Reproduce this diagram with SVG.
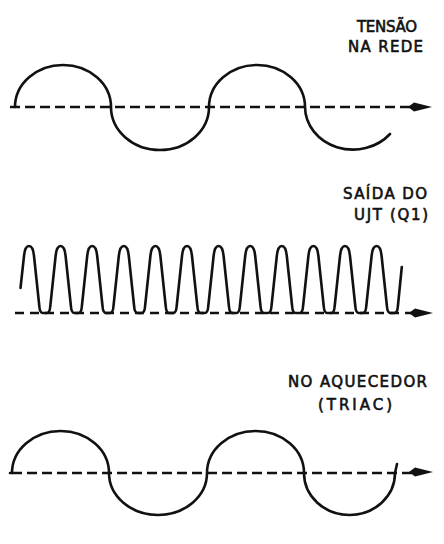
<svg xmlns="http://www.w3.org/2000/svg" xmlns:xlink="http://www.w3.org/1999/xlink" width="444" height="544" viewBox="0 0 444 544">
<style>
.bg{fill:#ffffff}
.wave{fill:none;stroke:#111;stroke-width:2.6;stroke-linecap:round;stroke-linejoin:round}
.axis{fill:none;stroke:#111;stroke-width:2.6;stroke-dasharray:10 5}
.axis2{fill:none;stroke:#111;stroke-width:2.6;stroke-dasharray:9 6}
.lbl{font-family:"DejaVu Sans","Liberation Sans",sans-serif;font-size:15px;fill:#111;stroke:#111;stroke-width:0.6;text-anchor:middle}
.ah{fill:#111}
</style>
<defs>
<path id="arrow" d="M0,0 L-18,-4.5 L-24,0 L-18,4.5 Z"/>
</defs>
<rect class="bg" x="0" y="0" width="444" height="544"/>

<g id="panel-tensao">
<text class="lbl" x="387" y="32" textLength="60" lengthAdjust="spacing">TENSÃO</text>
<text class="lbl" x="385.5" y="52" textLength="75" lengthAdjust="spacing">NA REDE</text>
<path class="wave" d="M15,107 A48 42 0 0 1 111,107 A49 43 0 0 0 209,107 A48 42 0 0 1 305,107 A48 43 0 0 0 390,134"/>
</g>

<g id="panel-ujt">
<text class="lbl" x="385" y="199" textLength="84" lengthAdjust="spacing">SAÍDA DO</text>
<text class="lbl" x="391" y="220" textLength="74" lengthAdjust="spacing">UJT (Q1)</text>
<path class="wave" d="M20.5,288 L24,256
c0.6,-6 2.2,-10 5,-10 c2.8,0 4.4,4 5,10 l5.3,50 q0.5,7 3.5,7 l4,0 q3,0 3.5,-7 l5.3,-50
c0.6,-6 2.2,-10 5,-10 c2.8,0 4.4,4 5,10 l5.3,50 q0.5,7 3.5,7 l4,0 q3,0 3.5,-7 l5.3,-50
c0.6,-6 2.2,-10 5,-10 c2.8,0 4.4,4 5,10 l5.3,50 q0.5,7 3.5,7 l4,0 q3,0 3.5,-7 l5.3,-50
c0.6,-6 2.2,-10 5,-10 c2.8,0 4.4,4 5,10 l5.3,50 q0.5,7 3.5,7 l4,0 q3,0 3.5,-7 l5.3,-50
c0.6,-6 2.2,-10 5,-10 c2.8,0 4.4,4 5,10 l5.3,50 q0.5,7 3.5,7 l4,0 q3,0 3.5,-7 l5.3,-50
c0.6,-6 2.2,-10 5,-10 c2.8,0 4.4,4 5,10 l5.3,50 q0.5,7 3.5,7 l4,0 q3,0 3.5,-7 l5.3,-50
c0.6,-6 2.2,-10 5,-10 c2.8,0 4.4,4 5,10 l5.3,50 q0.5,7 3.5,7 l4,0 q3,0 3.5,-7 l5.3,-50
c0.6,-6 2.2,-10 5,-10 c2.8,0 4.4,4 5,10 l5.3,50 q0.5,7 3.5,7 l4,0 q3,0 3.5,-7 l5.3,-50
c0.6,-6 2.2,-10 5,-10 c2.8,0 4.4,4 5,10 l5.3,50 q0.5,7 3.5,7 l4,0 q3,0 3.5,-7 l5.3,-50
c0.6,-6 2.2,-10 5,-10 c2.8,0 4.4,4 5,10 l5.3,50 q0.5,7 3.5,7 l4,0 q3,0 3.5,-7 l5.3,-50
c0.6,-6 2.2,-10 5,-10 c2.8,0 4.4,4 5,10 l5.3,50 q0.5,7 3.5,7 l4,0 q3,0 3.5,-7 l5.3,-50
c0.6,-6 2.2,-10 5,-10 c2.8,0 4.4,4 5,10 l5.3,50 q0.5,7 3.5,7 l4,0 q3,0 3.5,-7 l3.9,-39"/>
</g>

<g id="panel-triac">
<text class="lbl" x="357.5" y="387" textLength="139" lengthAdjust="spacing">NO AQUECEDOR</text>
<text class="lbl" x="355" y="410" textLength="74" lengthAdjust="spacing">(TRIAC)</text>
<path class="wave" d="M10,473 L12,473 A48.5 42 0 0 1 109,473 A49 42 0 0 0 207,473 A48.5 42 0 0 1 304,473 A45.5 42 0 0 0 395,473 L397,464"/>
</g>

<g id="connectors">
<path class="axis" d="M10,107 L414,107"/>
<use xlink:href="#arrow" href="#arrow" class="ah" x="432" y="107"/>
<path class="axis2" d="M15,313 L414,313"/>
<use xlink:href="#arrow" href="#arrow" class="ah" x="433" y="313"/>
<path class="axis" d="M12,473 L414,473"/>
<use xlink:href="#arrow" href="#arrow" class="ah" x="433" y="472"/>
</g>
</svg>
